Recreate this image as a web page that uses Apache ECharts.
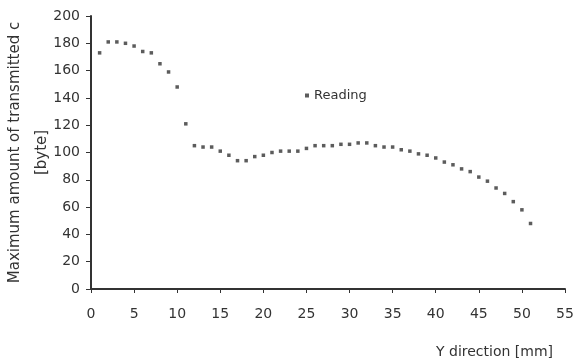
<!DOCTYPE html>
<html>
<head>
<meta charset="utf-8">
<script src="https://cdn.jsdelivr.net/npm/echarts@6/dist/echarts.min.js"></script>
<style>
  html, body { margin: 0; padding: 0; background: #fff; }
  #main { width: 574px; height: 364px; }
</style>
</head>
<body>
<div id="main"></div>
<script>
// Y direction positions [mm]
var yPos = [1,2,3,4,5,6,7,8,9,10,11,12,13,14,15,16,17,18,19,20,21,22,23,24,25,26,
  27,28,29,30,31,32,33,34,35,36,37,38,39,40,41,42,43,44,45,46,47,48,49,50,51];
// maximum amount of transmitted data [byte]
var reading = [173,181,181,180,178,174,173,165,159,148,121,105,104,104,101,98,94,94,97,98,
  100,101,101,101,103,105,105,105,106,106,107,107,105,104,104,102,101,99,98,96,
  93,91,88,86,82,79,74,70,64,58,48];
var xTicks = [0,5,10,15,20,25,30,35,40,45,50,55];
var yTicks = [0,20,40,60,80,100,120,140,160,180,200];

var points = yPos.map(function (x, i) { return [x, reading[i]]; });

var chart = echarts.init(document.getElementById('main'));
var font = 'DejaVu Sans, Verdana, sans-serif';
chart.setOption({
  animation: false,
  backgroundColor: '#fff',
  textStyle: { fontFamily: font },
  grid: { left: 91, right: 9, top: 16, bottom: 75, outerBoundsMode: 'none', containLabel: false },
  legend: {
    left: 300, top: 84,
    itemWidth: 4, itemHeight: 4, itemGap: 6,
    textStyle: { fontSize: 13, color: '#333', fontFamily: font },
    data: ['Reading']
  },
  xAxis: {
    type: 'value',
    min: xTicks[0], max: xTicks[xTicks.length - 1], interval: 5,
    name: 'Y direction [mm]',
    nameLocation: 'end',
    nameGap: 0,
    nameMoveOverlap: false,
    nameTextStyle: { fontSize: 14, color: '#333', align: 'right', verticalAlign: 'top', padding: [56, 12, 0, 0] },
    axisLine: { lineStyle: { color: '#333', width: 2 } },
    axisTick: { inside: false, length: 4, lineStyle: { color: '#333' } },
    axisLabel: { fontSize: 14, color: '#333', margin: 18 },
    splitLine: { show: false }
  },
  yAxis: {
    type: 'value',
    min: yTicks[0], max: yTicks[yTicks.length - 1], interval: 20,
    name: 'Maximum amount of transmitted c\n[byte]',
    nameLocation: 'middle',
    nameGap: 35,
    nameMoveOverlap: false,
    nameTextStyle: { fontSize: 15, color: '#333', lineHeight: 27 },
    axisLine: { show: true, lineStyle: { color: '#333', width: 2 } },
    axisTick: { show: true, length: 5, lineStyle: { color: '#333' } },
    axisLabel: { fontSize: 14, color: '#333', margin: 11 },
    splitLine: { show: false }
  },
  series: [{
    name: 'Reading',
    type: 'scatter',
    symbol: 'rect',
    symbolSize: 3.5,
    itemStyle: { color: '#333' },
    data: points
  }]
});
</script>
</body>
</html>
